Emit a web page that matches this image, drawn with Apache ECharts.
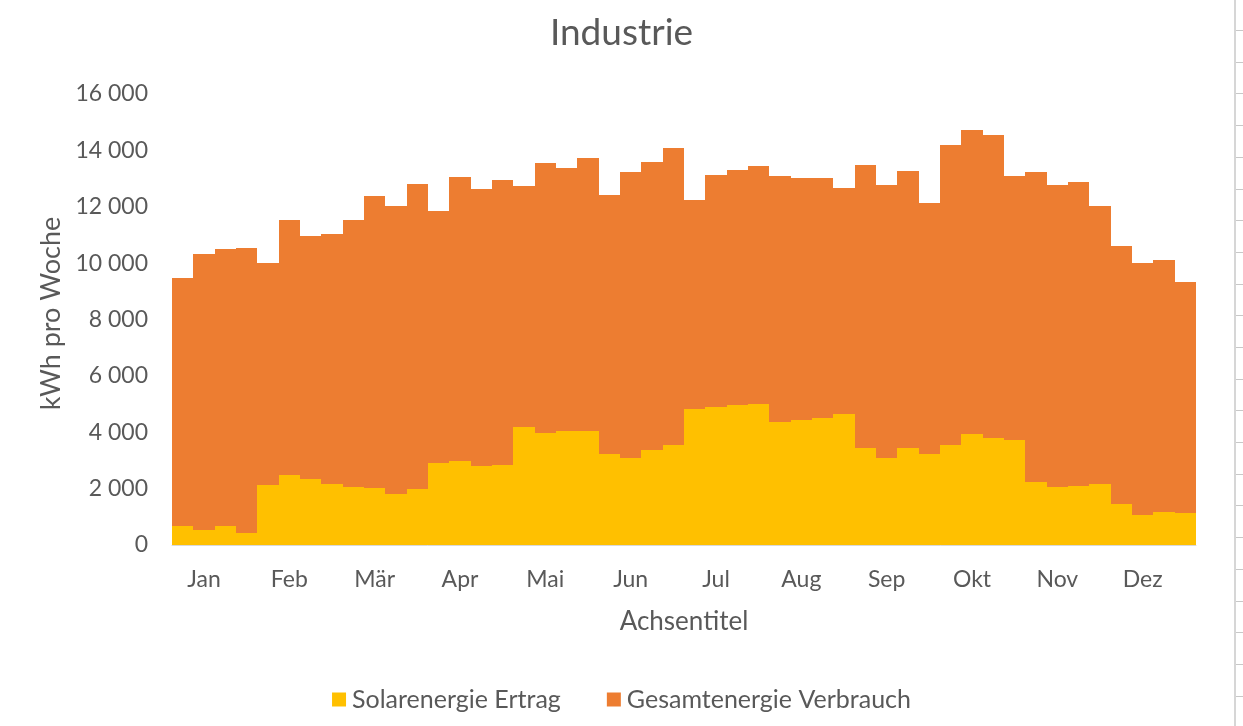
<!DOCTYPE html>
<html>
<head>
<meta charset="utf-8">
<script src="https://cdn.jsdelivr.net/npm/echarts@6/dist/echarts.min.js"></script>
<style>
html,body{margin:0;padding:0;background:#fff;}
#chart{width:1243px;height:726px;}
</style>
</head>
<body>
<div id="chart"></div>
<script>
const title = 'Industrie';
const months = ['Jan','Feb','Mär','Apr','Mai','Jun','Jul','Aug','Sep','Okt','Nov','Dez'];
const weeks = Array.from({length: 48}, (_, i) => 'KW' + (i + 1));
const solar = [
  670, 530, 670, 410, 2130, 2480, 2330, 2170, 2050, 2020, 1800, 1980,
  2900, 2990, 2820, 2840, 4200, 3970, 4050, 4050, 3230, 3080, 3370, 3550,
  4820, 4910, 4970, 5000, 4380, 4440, 4500, 4640, 3430, 3100, 3430, 3230,
  3550, 3930, 3810, 3730, 2230, 2070, 2110, 2150, 1440, 1070, 1180, 1120
];
const total = [
  9470, 10330, 10500, 10530, 10000, 11540, 10970, 11030, 11540, 12390, 12030, 12820,
  11860, 13060, 12640, 12960, 12740, 13550, 13370, 13730, 12420, 13230, 13590, 14080,
  12250, 13130, 13310, 13450, 13080, 13020, 13020, 12660, 13470, 12760, 13280, 12150,
  14200, 14710, 14560, 13100, 13230, 12770, 12870, 12030, 10610, 10000, 10120, 9330
];
const yTicks = { min: 0, max: 16000, interval: 2000 };
const seriesNames = ['Solarenergie Ertrag', 'Gesamtenergie Verbrauch'];

const FONT = 'Lato, "Open Sans", sans-serif';
const GREY = '#595959';
const ORANGE = '#ED7D31';
const YELLOW = '#FFC000';

const chart = echarts.init(document.getElementById('chart'), null, {renderer: 'canvas'});

// decorative spreadsheet border at the right edge
const deco = [{
  type: 'rect', shape: {x: 1234, y: 0, width: 2, height: 726},
  style: {fill: '#d6d6d6'}, silent: true
}];
for (let y = 30; y < 726; y += 31.7) {
  deco.push({type: 'line', shape: {x1: 1236, y1: Math.round(y) + 0.5, x2: 1243, y2: Math.round(y) + 0.5},
    style: {stroke: '#c8c8c8', lineWidth: 1}, silent: true});
}

// seamless step-bars: edges snapped to whole pixels so neighbours touch exactly
function makeRender(color) {
  return function (params, api) {
    const i = api.value(0);
    const top = api.coord([i, api.value(1)]);
    const base = api.coord([i, 0]);
    const w = api.size([1, 0])[0];
    const x0 = Math.round(top[0] - w / 2);
    const x1 = Math.round(top[0] + w / 2);
    const y0 = Math.round(top[1]);
    const y1 = Math.round(base[1]);
    return {
      type: 'rect',
      shape: {x: x0, y: y0, width: x1 - x0, height: y1 - y0},
      style: {fill: color}
    };
  };
}

chart.setOption({
  backgroundColor: '#fff',
  animation: false,
  title: {
    text: title, left: 'center', top: 10,
    textStyle: {fontFamily: FONT, fontSize: 37, fontWeight: 'normal', color: GREY}
  },
  legend: {
    data: seriesNames, bottom: 9, left: 'center',
    itemWidth: 14, itemHeight: 14, itemGap: 46, icon: 'rect',
    textStyle: {fontFamily: FONT, fontSize: 25, color: GREY, padding: [0, 0, 0, 1]}
  },
  grid: {left: 172, right: 47, top: 94, bottom: 181, containLabel: false},
  xAxis: {
    type: 'category', data: weeks,
    axisLine: {show: true, lineStyle: {color: '#d9d9d9', width: 1}},
    axisTick: {show: false},
    axisLabel: {
      interval: (i) => i % 4 === 1,
      formatter: (v, i) => months[Math.floor(i / 4)],
      fontFamily: FONT, fontSize: 23, color: GREY, margin: 23
    },
    name: 'Achsentitel', nameLocation: 'middle', nameGap: 64,
    nameTextStyle: {fontFamily: FONT, fontSize: 26, color: GREY}
  },
  yAxis: {
    type: 'value', min: yTicks.min, max: yTicks.max, interval: yTicks.interval,
    axisLine: {show: false}, axisTick: {show: false}, splitLine: {show: false},
    axisLabel: {
      fontFamily: FONT, fontSize: 23, color: GREY, margin: 24,
      formatter: (v) => String(v).replace(/\B(?=(\d{3})+(?!\d))/g, ' ')
    },
    name: 'kWh pro Woche', nameLocation: 'middle', nameGap: 107, nameRotate: 90,
    nameTextStyle: {fontFamily: FONT, fontSize: 27, color: GREY, padding: [0, 0, 0, 12]}
  },
  series: [
    {
      name: seriesNames[1], type: 'custom', renderItem: makeRender(ORANGE),
      data: total.map((v, i) => [i, v]), encode: {x: 0, y: 1},
      itemStyle: {color: ORANGE}, z: 2
    },
    {
      name: seriesNames[0], type: 'custom', renderItem: makeRender(YELLOW),
      data: solar.map((v, i) => [i, v]), encode: {x: 0, y: 1},
      itemStyle: {color: YELLOW}, z: 3
    }
  ],
  graphic: deco
});
</script>
</body>
</html>
